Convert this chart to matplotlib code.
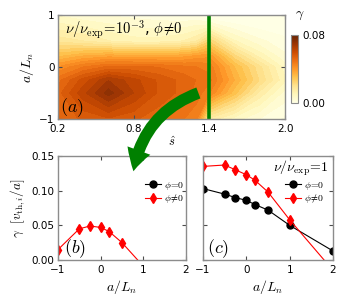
import numpy as np
import matplotlib
matplotlib.use("Agg")
import matplotlib.pyplot as plt
from matplotlib.patches import FancyArrowPatch
from matplotlib.cm import ScalarMappable
from matplotlib.colors import Normalize

plt.rcParams['mathtext.fontset'] = 'cm'
plt.rcParams['font.family'] = ['DejaVu Sans']

# ---- data: panel (a) growth-rate map ----
s_hat = [0.2, 0.4, 0.6, 0.8, 1.0, 1.2, 1.3, 1.4, 1.6, 1.8, 2.0]
a_Ln_grid = [-1.0, -0.5, -0.25, 0.0, 0.2, 0.5, 1.0]
gamma_map = [
    [0.052, 0.055, 0.057, 0.055, 0.052, 0.048, 0.045, 0.015, 0.008, 0.003, 0.000],
    [0.053, 0.063, 0.072, 0.064, 0.057, 0.053, 0.050, 0.045, 0.030, 0.015, 0.005],
    [0.050, 0.059, 0.067, 0.062, 0.057, 0.053, 0.051, 0.049, 0.035, 0.022, 0.010],
    [0.042, 0.048, 0.052, 0.052, 0.051, 0.049, 0.048, 0.047, 0.032, 0.020, 0.008],
    [0.032, 0.036, 0.038, 0.037, 0.037, 0.038, 0.040, 0.041, 0.024, 0.012, 0.004],
    [0.018, 0.016, 0.013, 0.011, 0.011, 0.013, 0.016, 0.025, 0.010, 0.004, 0.001],
    [0.006, 0.004, 0.003, 0.002, 0.001, 0.000, 0.000, -0.005, -0.005, -0.005, -0.005],
]
s_cut = 1.4

# ---- data: panel (b) nu/nu_exp = 1e-3, s_hat = 1.4 ----
aLn_b = [-1.0, -0.5, -0.25, 0.0, 0.2, 0.5, 1.0]
gam_b_phi = [0.015, 0.045, 0.049, 0.047, 0.041, 0.025, -0.009]

# ---- data: panel (c) nu/nu_exp = 1 ----
aLn_c = [-1.0, -0.5, -0.25, 0.0, 0.2, 0.5, 1.0, 2.0]
gam_c_nophi = [0.103, 0.095, 0.090, 0.086, 0.080, 0.072, 0.050, 0.013]
gam_c_phi = [0.135, 0.137, 0.130, 0.123, 0.115, 0.098, 0.058, -0.015]

W, H = 338, 300
fig = plt.figure(figsize=(W / 100, H / 100), dpi=100)

def ax_px(l, t, r, b):
    return fig.add_axes([l / W, 1 - b / H, (r - l) / W, (b - t) / H])

frame_c = '0.55'
def style(ax):
    for sp in ax.spines.values():
        sp.set_color(frame_c)
        sp.set_linewidth(1.0)
    ax.tick_params(direction='in', top=True, right=True, length=3,
                   width=0.8, color='0.3', labelsize=7.5, pad=2.5)

cmap = 'YlOrBr'
# ---- panel (a) ----
axa = ax_px(58, 15, 285, 119)
levels = np.linspace(0, 0.08, 26)
cf = axa.contourf(s_hat, a_Ln_grid, np.array(gamma_map), levels=levels,
                  cmap=cmap, extend='both')
axa.axvline(s_cut, color='green', lw=2.6)
axa.set_xlim(0.2, 2.0)
axa.set_ylim(-1, 1)
axa.set_xticks([0.2, 0.8, 1.4, 2.0])
axa.set_xticklabels(['0.2', '0.8', '1.4', '2.0'])
axa.set_yticks([-1, 0, 1])
axa.set_yticklabels(['\u22121', '0', '1'])
style(axa)
axa.tick_params(axis='x', pad=3.5)
axa.set_xlabel(r'$\hat{s}$', fontsize=9, labelpad=1)
axa.set_ylabel(r'$a/L_n$', fontsize=10, labelpad=2)
axa.text(0.03, 0.86, r'$\nu/\nu_{\rm exp}\!=\!10^{-3}$, $\phi\!\neq\!0$',
         transform=axa.transAxes, fontsize=10.5, va='center')
axa.text(0.01, 0.11, r'$(a)$', transform=axa.transAxes, fontsize=13, va='center')

cax = ax_px(291, 35, 298, 103)
sm = ScalarMappable(norm=Normalize(0, 0.08), cmap=cmap)
cb = fig.colorbar(sm, cax=cax, ticks=[0, 0.08])
cb.ax.set_yticklabels(['0.00', '0.08'])
cb.ax.tick_params(labelsize=7.5, length=0, pad=3)
cb.outline.set_edgecolor(frame_c)
fig.text(300 / W, 1 - 15 / H, r'$\gamma$', fontsize=10, ha='center', va='center')

leg_kw = dict(loc='upper right', frameon=False, fontsize=7, handlelength=1.6,
              handletextpad=0.3, labelspacing=0.1, borderaxespad=0.2)

# ---- panel (b) ----
axb = ax_px(58, 156, 186, 260)
axb.plot([], [], '-o', color='black', ms=5, lw=0.8, label=r'$\phi\!=\!0$')
axb.plot(aLn_b, gam_b_phi, '-d', color='red', ms=5.5, lw=0.8, label=r'$\phi\!\neq\!0$')
axb.set_xlim(-1, 2)
axb.set_ylim(0, 0.15)
axb.set_xticks([-1, 0, 1, 2])
axb.set_xticklabels(['\u22121', '0', '1', '2'])
axb.set_yticks([0, 0.05, 0.10, 0.15])
axb.set_yticklabels(['0.00', '0.05', '0.10', '0.15'])
style(axb)
axb.tick_params(axis='x', pad=3.5)
axb.set_xlabel(r'$a/L_n$', fontsize=10, labelpad=2)
axb.set_ylabel(r'$\gamma\ \ [v_{{\rm th},i}/a]$', fontsize=9.5, labelpad=3)
axb.text(0.05, 0.11, r'$(b)$', transform=axb.transAxes, fontsize=13, va='center')
axb.legend(bbox_to_anchor=(1.03, 0.83), **leg_kw)

# ---- panel (c) ----
axc = ax_px(203, 156, 333, 260)
axc.plot(aLn_c, gam_c_nophi, '-o', color='black', ms=5, lw=0.8, label=r'$\phi\!=\!0$')
axc.plot(aLn_c, gam_c_phi, '-d', color='red', ms=5.5, lw=0.8, label=r'$\phi\!\neq\!0$')
axc.set_xlim(-1, 2)
axc.set_ylim(0, 0.15)
axc.set_xticks([-1, 0, 1, 2])
axc.set_xticklabels(['\u22121', '0', '1', '2'])
axc.set_yticks([0, 0.05, 0.10, 0.15])
axc.set_yticklabels([])
style(axc)
axc.tick_params(axis='x', pad=3.5)
axc.set_xlabel(r'$a/L_n$', fontsize=10, labelpad=2)
axc.text(0.03, 0.11, r'$(c)$', transform=axc.transAxes, fontsize=13, va='center')
axc.text(0.97, 0.885, r'$\nu/\nu_{\rm exp}\!=\!1$', transform=axc.transAxes,
         fontsize=10, ha='right', va='center')
axc.legend(bbox_to_anchor=(0.975, 0.83), **leg_kw)

# ---- green curved arrow ----
arrow = FancyArrowPatch((201 / W, 1 - 92 / H), (133 / W, 1 - 174 / H),
                        transform=fig.transFigure,
                        connectionstyle='arc3,rad=0.3',
                        arrowstyle='simple,head_width=1.25,head_length=1.1,tail_width=0.6',
                        mutation_scale=14, color='green', lw=0, zorder=10)
fig.add_artist(arrow)

fig.savefig('out.png', dpi=100)
